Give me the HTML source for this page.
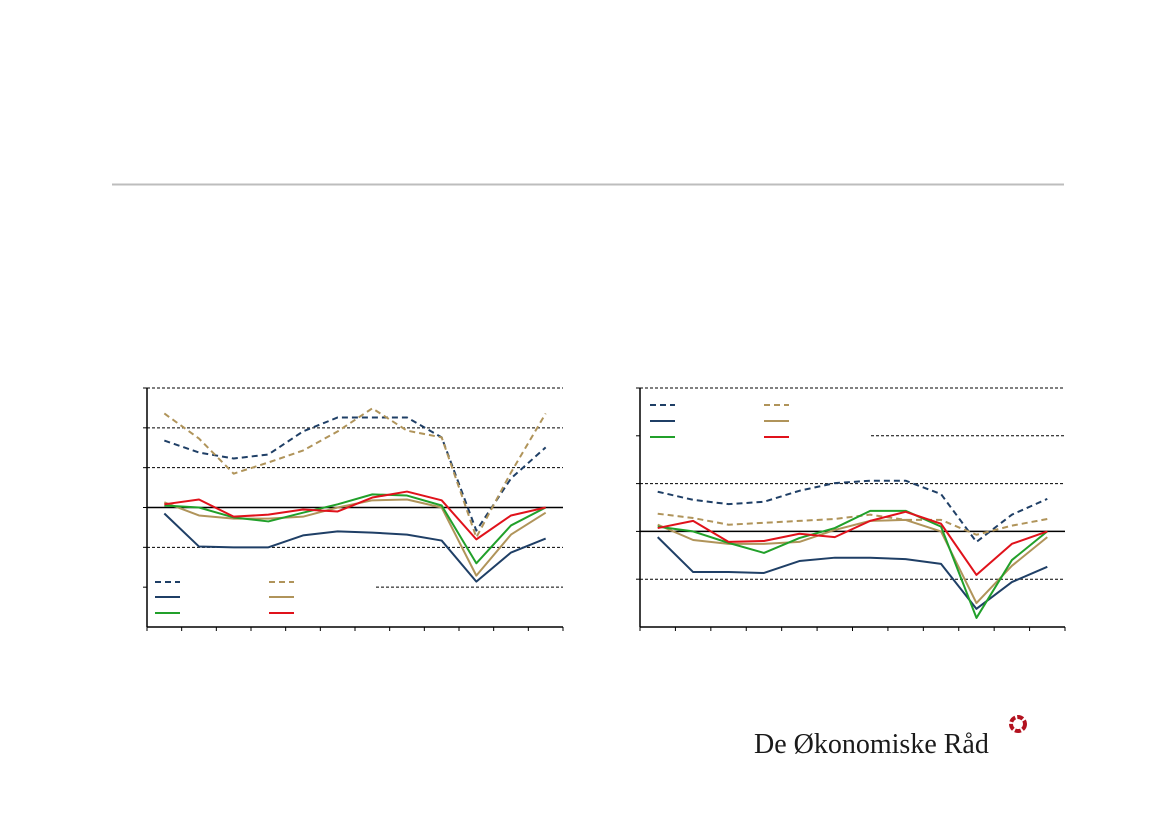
<!DOCTYPE html>
<html><head><meta charset="utf-8"><style>
body{margin:0;background:#fff;width:1169px;height:826px;overflow:hidden;position:relative;font-family:"Liberation Sans",sans-serif}
svg{position:absolute;left:0;top:0}
</style></head><body>
<svg width="1169" height="826">
<line x1="112" y1="184.5" x2="1064" y2="184.5" stroke="#bdbdbd" stroke-width="2"/>
<g id="left"></g>
<g id="right"></g>
<g>
<text x="754" y="753" font-family="Liberation Serif, serif" font-size="28" fill="#1a1a1a">De Økonomiske Råd</text>
<circle cx="1018" cy="724" r="7" fill="none" stroke="#b3121f" stroke-width="4" stroke-dasharray="6 2"/>
</g>
</svg>
<script>
const seriesNames=["navy-dashed","gold-dashed","navy-solid","gold-solid","green","red"];
const colors=["#1f3f66","#b0945a","#1f3f66","#b0945a","#21a02a","#e0121b"];
const dashed=[true,true,false,false,false,false];
const leftNavyDash=[1.68,1.38,1.23,1.33,1.91,2.26,2.26,2.26,1.76,-0.58,0.73,1.51];
const leftGoldDash=[2.36,1.73,0.85,1.13,1.43,1.91,2.49,1.93,1.76,-0.75,0.88,2.36];
const leftNavy=[-0.15,-0.98,-1.0,-1.0,-0.7,-0.6,-0.63,-0.68,-0.83,-1.86,-1.13,-0.78];
const leftGold=[0.13,-0.2,-0.28,-0.28,-0.23,0,0.18,0.2,0,-1.71,-0.68,-0.13];
const leftGreen=[0.05,0,-0.25,-0.35,-0.13,0.08,0.33,0.3,0.05,-1.4,-0.45,0];
const leftRed=[0.08,0.2,-0.23,-0.18,-0.05,-0.1,0.25,0.4,0.18,-0.8,-0.2,0];
const rightNavyDash=[0.83,0.66,0.57,0.62,0.85,1.01,1.06,1.06,0.78,-0.22,0.35,0.68];
const rightGoldDash=[0.37,0.28,0.14,0.18,0.22,0.26,0.35,0.24,0.24,-0.07,0.12,0.26];
const rightNavy=[-0.12,-0.85,-0.85,-0.87,-0.62,-0.55,-0.55,-0.58,-0.68,-1.62,-1.06,-0.74];
const rightGold=[0.14,-0.18,-0.26,-0.26,-0.22,0.03,0.22,0.24,0,-1.5,-0.72,-0.12];
const rightGreen=[0.1,0,-0.24,-0.45,-0.14,0.07,0.43,0.43,0.1,-1.81,-0.6,0];
const rightRed=[0.07,0.22,-0.22,-0.2,-0.05,-0.12,0.22,0.41,0.16,-0.91,-0.26,0];
const leftTicks=[-3,-2,-1,0,1,2,3];
const rightTicks=[-2,-1,0,1,2,3];
const NS="http://www.w3.org/2000/svg";
function mk(g,tag,attrs){const e=document.createElementNS(NS,tag);for(const k in attrs)e.setAttribute(k,attrs[k]);g.appendChild(e);return e;}
function draw(id,cfg,series,ticks){
 const g=document.getElementById(id);
 const n=series[0].length;
 const lo=ticks[0],hi=ticks[ticks.length-1];
 const y=v=>cfg.y1+(hi-v)/(hi-lo)*(cfg.y2-cfg.y1);
 const step=(cfg.x2-cfg.x1)/n;
 const x=i=>cfg.x1+step*(i+0.5);
 ticks.forEach(t=>{
  if(t===lo)return;
  const yy=y(t);
  const startX=(t===cfg.legendGridTick)?cfg.legendEnd:cfg.x1;
  const l=mk(g,'line',{x1:startX,x2:cfg.x2,y1:yy,y2:yy,stroke:'#000','stroke-width':t===0?1.5:1,'stroke-dasharray':t===0?'none':'3 2'});
  
  
  const tk=mk(g,'line',{x1:cfg.x1-4,x2:cfg.x1,y1:yy,y2:yy,stroke:'#000'});
  
  
 });
 const ya=mk(g,'line',{x1:cfg.x1,x2:cfg.x1,y1:cfg.y1,y2:cfg.y2,stroke:'#000','stroke-width':1.5});
 
 
 const xa=mk(g,'line',{x1:cfg.x1,x2:cfg.x2,y1:cfg.y2,y2:cfg.y2,stroke:'#000','stroke-width':1.5});
 
 
 for(let i=0;i<=n;i++){
  const tk=mk(g,'line',{x1:cfg.x1+step*i,x2:cfg.x1+step*i,y1:cfg.y2,y2:cfg.y2+4,stroke:'#000'});
  
  
 }
 series.forEach((s,k)=>{
  const p=mk(g,'polyline',{points:s.map((v,i)=>x(i)+','+y(v)).join(' '),fill:'none',stroke:colors[k],'stroke-width':2,'stroke-dasharray':dashed[k]?'6 4':'none','stroke-linejoin':'round'});
  
  
  const col=k%2,row=Math.floor(k/2);
  const lx=cfg.legX[col],ly=cfg.legY[row];
  const le=mk(g,'line',{x1:lx,x2:lx+25,y1:ly,y2:ly,stroke:colors[k],'stroke-width':2,'stroke-dasharray':dashed[k]?'6 4':'none'});
  
  
 });
}
draw('left',{x1:147,x2:563,y1:388,y2:627,legendGridTick:-2,legendEnd:376,legX:[155,269],legY:[582,597,613]},
 [leftNavyDash,leftGoldDash,leftNavy,leftGold,leftGreen,leftRed],leftTicks);
draw('right',{x1:640,x2:1065,y1:388,y2:627,legendGridTick:2,legendEnd:871,legX:[650,764],legY:[405,421,437]},
 [rightNavyDash,rightGoldDash,rightNavy,rightGold,rightGreen,rightRed],rightTicks);
</script>
</body></html>
